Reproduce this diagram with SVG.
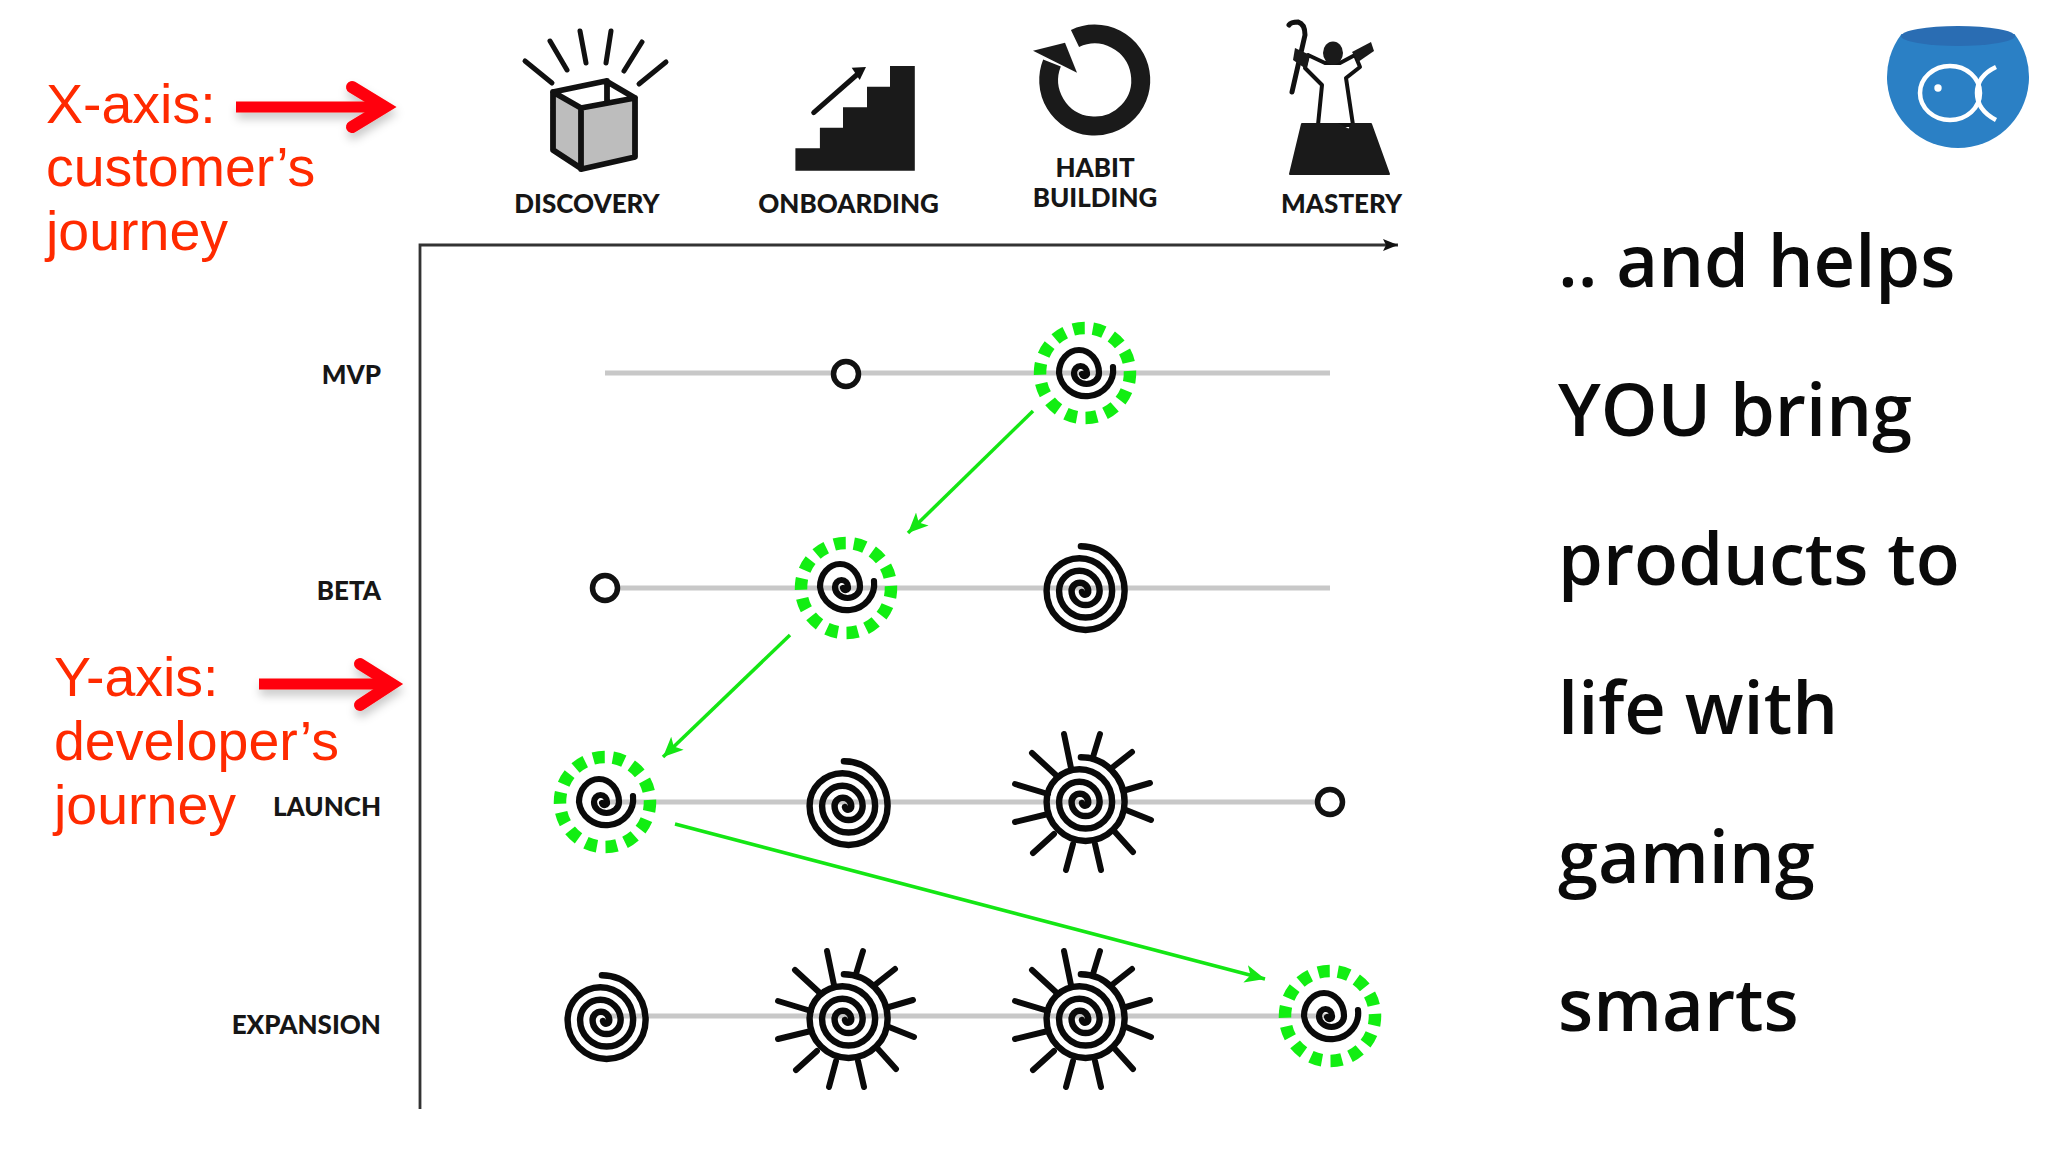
<svg xmlns="http://www.w3.org/2000/svg" width="2048" height="1152" viewBox="0 0 2048 1152">
<style>
.bg{fill:#fff}
.cat{font-family:"Lato","Liberation Sans",sans-serif;font-weight:900;font-size:26px;fill:#161616;text-anchor:middle}
.row{font-family:"Lato","Liberation Sans",sans-serif;font-weight:900;font-size:26px;fill:#161616;text-anchor:end}
.red{font-family:"Liberation Sans",Arial,sans-serif;font-size:55.5px;fill:#ff2a00}
.big{font-family:"Open Sans","Noto Sans",sans-serif;font-weight:600;font-size:72.2px;fill:#0a0a0a}
.sp{fill:none;stroke:#0a0a0a;stroke-width:6.2;stroke-linecap:round}
.ray{stroke:#0a0a0a;stroke-width:6;stroke-linecap:round;fill:none}
.dash{fill:none;stroke:#12ee12;stroke-width:12.5;stroke-dasharray:11.6 8.6}
.open{fill:#fff;stroke:#111;stroke-width:5.5}
.track{stroke:#c8c8c8;stroke-width:5;fill:none}
.gl{stroke:#14e614;stroke-width:3.5;fill:none;marker-end:url(#gh)}
.ra{stroke:#ff0008;fill:none}
.ic{fill:none;stroke:#111;stroke-width:5;stroke-linecap:round;stroke-linejoin:round}
</style>
<defs>
<filter id="sh" x="-20%" y="-50%" width="140%" height="220%"><feDropShadow dx="1" dy="6" stdDeviation="5" flood-color="#000" flood-opacity=".22"/></filter>
<marker id="gh" markerUnits="userSpaceOnUse" markerWidth="24" markerHeight="20" refX="20" refY="10" orient="auto"><path d="M0,1 L20,10 L0,19 L5,10 Z" fill="#14e614"/></marker>
<marker id="axh" markerUnits="userSpaceOnUse" markerWidth="16" markerHeight="14" refX="15" refY="7" orient="auto"><path d="M0,1 L15,7 L0,13 L3,7 Z" fill="#111"/></marker>
<g id="s2"><path class="sp" d="M30,-6 A27 26 0 0 1 -24,0 A20 23 0 0 1 16,0 A12.5 11 0 0 1 -9,0 A6.5 7 0 0 1 4,0 A2.5 2.5 0 0 1 -1,1"/></g>
<g id="s3"><path class="sp" transform="scale(1.04)" d="M-2,-43 A42 43 0 0 1 40,0 A37.5 37.5 0 0 1 -35,0 A31.5 31.5 0 0 1 28,0 A25.5 25.5 0 0 1 -23,0 A19.5 19.5 0 0 1 16,0 A13.5 13.5 0 0 1 -11,0 A8 8 0 0 1 5,0 A3 3 0 0 1 -1,1"/></g>
<g id="sun"><use href="#s3"/><path class="ray" d="M10,-45 L17,-68 M30,-35 L49,-50 M43,-12 L67,-19 M43,8 L68,18 M32,30 L50,50 M12,42 L18,68 M-10,42 L-17,68 M-29,32 L-50,51 M-35,12 L-68,20 M-35,-8 L-68,-18 M-25,-25 L-51,-49 M-12,-34 L-19,-68"/></g>
<g id="dr"><circle class="dash" r="45" transform="rotate(-80)"/></g>
</defs>
<rect class="bg" width="2048" height="1152"/>

<g id="axes">
<path d="M420,1109 V245 H1398" fill="none" stroke="#333" stroke-width="2.8" marker-end="url(#axh)"/>
</g>

<g id="tracks">
<path class="track" d="M605,373 H1330 M605,588 H1330 M605,802 H1330 M606,1016 H1330"/>
</g>

<g id="discovery">
<path class="ic" d="M552,83 L525,61 M567,70 L550,41 M586,63 L580,31 M606,63 L611,31 M624,71 L642,42 M639,84 L666,62"/>
<path d="M553,92 L581,108 L635,98 V157 L582,169 L553,150 Z" fill="#bdbdbd"/>
<path class="ic" style="stroke-width:5.8" d="M553,92 L606,81 L635,98 L581,108 Z M607,81 V102 M553,92 V150 L582,169 L635,157 V98 M581,108 V169"/>
<text class="cat" x="587" y="213">DISCOVERY</text>
</g>
<g id="onboarding">
<path d="M795.4,170.7 V148.3 H819.9 V127.7 H843 V107.3 H867 V86.7 H890 V66 H914.8 V170.7 Z" fill="#1a1a1a"/>
<path class="ic" d="M813.7,112.7 L860,72"/>
<path d="M866,67 L851.7,67.7 L859.7,80 Z" fill="#111"/>
<text class="cat" x="848.6" y="213">ONBOARDING</text>
</g>
<g id="habit">
<path d="M1075,38.5 A46 46 0 1 1 1052,63" fill="none" stroke="#1a1a1a" stroke-width="19"/>
<path d="M1033,50.7 L1065,42.7 L1077,72.7 Z" fill="#1a1a1a"/>
<text class="cat" x="1095" y="177">HABIT</text>
<text class="cat" x="1095" y="207">BUILDING</text>
</g>
<g id="mastery">
<path class="ic" d="M1292,92 L1305,35 Q1305,24 1298,22 Q1291,22 1289,25"/>
<path d="M1308,55 L1325,63 H1340 L1355,55 L1360,67 L1346,78 L1353,125 H1318 L1322,85 L1305,68 Z" fill="#fff" stroke="#111" stroke-width="4" stroke-linejoin="round"/>
<ellipse cx="1333" cy="53" rx="10" ry="11.5" fill="#1a1a1a"/>
<path d="M1295,48 L1310,55 L1306,69 L1293,60 Z" fill="#1a1a1a"/>
<path d="M1352,52 L1371,42 L1374,51 L1358,62 Z" fill="#1a1a1a"/>
<path d="M1302,124 H1337 L1349,130 L1352,124 H1371 L1389,174 H1290 Z" fill="#1a1a1a" stroke="#1a1a1a" stroke-width="2" stroke-linejoin="round"/>
<text class="cat" x="1341.6" y="213">MASTERY</text>
</g>

<g id="row-labels">
<text class="row" x="381" y="384">MVP</text>
<text class="row" x="381" y="600">BETA</text>
<text class="row" x="381" y="816">LAUNCH</text>
<text class="row" x="381" y="1034">EXPANSION</text>
</g>

<g id="mvp-nodes">
<circle id="mvp-open" class="open" cx="846" cy="374" r="12.5"/>
<g id="mvp-spiral" transform="translate(1083,373)"><use href="#s2"/></g>
<g id="mvp-ring" transform="translate(1085,373)"><use href="#dr"/></g>
</g>
<g id="beta-nodes">
<circle id="beta-open" class="open" cx="605" cy="588" r="12.5"/>
<g id="beta-spiral-a" transform="translate(844,587)"><use href="#s2"/></g>
<g id="beta-ring" transform="translate(846,588)"><use href="#dr"/></g>
<g id="beta-spiral-b" transform="translate(1083,591)"><use href="#s3"/></g>
</g>
<g id="launch-nodes">
<g id="launch-spiral-a" transform="translate(603,802)"><use href="#s2"/></g>
<g id="launch-ring" transform="translate(605,802)"><use href="#dr"/></g>
<g id="launch-spiral-b" transform="translate(846,806)"><use href="#s3"/></g>
<g id="launch-sun" transform="translate(1083,802)"><use href="#sun"/></g>
<circle id="launch-open" class="open" cx="1330" cy="802" r="12.5"/>
</g>
<g id="expansion-nodes">
<g id="exp-spiral" transform="translate(604,1020)"><use href="#s3"/></g>
<g id="exp-sun-a" transform="translate(846,1019)"><use href="#sun"/></g>
<g id="exp-sun-b" transform="translate(1083,1019)"><use href="#sun"/></g>
<g id="exp-spiral-b" transform="translate(1328,1016)"><use href="#s2"/></g>
<g id="exp-ring" transform="translate(1330,1016)"><use href="#dr"/></g>
</g>

<g id="connectors">
<path class="gl" d="M1033,411 L908,533"/>
<path class="gl" d="M790,635 L663,757"/>
<path class="gl" d="M675,824 L1265,979"/>
<g filter="url(#sh)">
<path class="ra" style="stroke-width:11" d="M236,107 H380"/>
<path class="ra" style="stroke-width:12;stroke-linecap:round" d="M352,87 L385,107 L352,127"/>
</g>
<g filter="url(#sh)">
<path class="ra" style="stroke-width:11" d="M259,684 H385"/>
<path class="ra" style="stroke-width:12;stroke-linecap:round" d="M360,664 L392,684 L360,705"/>
</g>
</g>

<g id="x-label">
<text class="red" x="46" y="123">X-axis:</text>
<text class="red" x="46" y="186">customer’s</text>
<text class="red" x="46" y="250">journey</text>
</g>
<g id="y-label">
<text class="red" x="54" y="696">Y-axis:</text>
<text class="red" x="54" y="760">developer’s</text>
<text class="red" x="54" y="824">journey</text>
</g>

<g id="logo">
<path d="M1901.5,34 A71 71 0 1 0 2014.5,34 Z" fill="#2b80c5"/>
<ellipse cx="1958" cy="36" rx="57" ry="10" fill="#2a6db3"/>
<ellipse cx="1950" cy="93" rx="30" ry="27" fill="none" stroke="#fff" stroke-width="4.5"/>
<path d="M1996,67 Q1977,76 1977,93 Q1977,110 1996,120" fill="none" stroke="#fff" stroke-width="4.5"/>
<circle cx="1938" cy="88" r="3.7" fill="#fff"/>
</g>

<g id="message">
<text class="big" x="1558" y="287">.. and helps</text>
<text class="big" x="1558" y="436">YOU bring</text>
<text class="big" x="1558" y="585">products to</text>
<text class="big" x="1558" y="734">life with</text>
<text class="big" x="1558" y="883">gaming</text>
<text class="big" x="1558" y="1031">smarts</text>
</g>
</svg>
